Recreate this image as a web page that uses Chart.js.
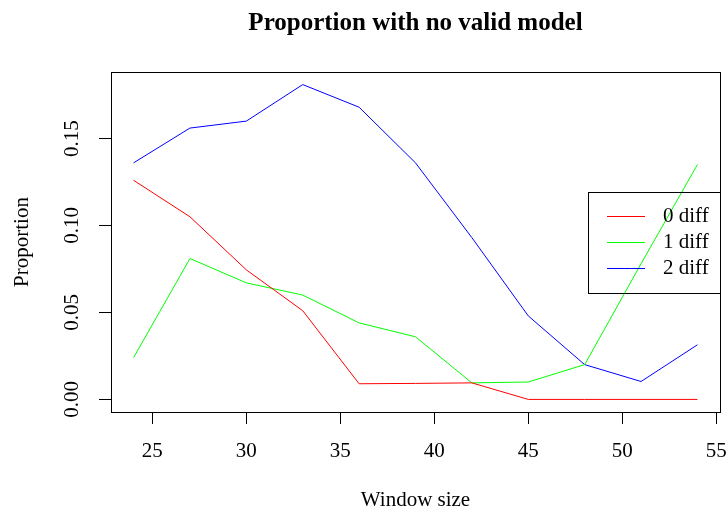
<!DOCTYPE html>
<html lang="en">
<head>
  <meta charset="UTF-8" />
  <title>Proportion with no valid model</title>
  <style>
    html, body { margin: 0; padding: 0; background: #fff; }
    #wrap { width: 728px; height: 513px; }
  </style>
</head>
<body>
  <div id="wrap">
    <canvas id="chart" width="728" height="513"></canvas>
  </div>

  <script src="https://cdn.jsdelivr.net/npm/chart.js"></script>
  <script>
    // values
    const windowSizes = [24, 27, 30, 33, 36, 39, 42, 45, 48, 51, 54];
    const diff0 = [0.126, 0.105, 0.0745, 0.051, 0.009, 0.0092, 0.0095, 0, 0, 0, 0];
    const diff1 = [0.024, 0.081, 0.067, 0.060, 0.044, 0.036, 0.0095, 0.010, 0.020, 0.078, 0.135];
    const diff2 = [0.136, 0.156, 0.160, 0.181, 0.168, 0.136, 0.093, 0.048, 0.020, 0.0103, 0.0314];
    const seriesNames = ['0 diff', '1 diff', '2 diff'];
    const xTicks = [25, 30, 35, 40, 45, 50, 55];
    const yTicks = [0, 0.05, 0.10, 0.15];
    const chartTitle = 'Proportion with no valid model';

    const FONT = "'Liberation Serif', 'Times New Roman', serif";
    Chart.defaults.font.family = FONT;
    Chart.defaults.color = '#000';

    // R style axis range: data range plus 4% each side
    function padRange(vals) {
      const lo = Math.min(...vals), hi = Math.max(...vals);
      const d = (hi - lo) * 0.04;
      return [lo - d, hi + d];
    }
    const [xMin, xMax] = padRange(windowSizes);
    const [yMin, yMax] = padRange(diff0.concat(diff1, diff2));

    const toPoints = arr => arr.map((v, i) => ({ x: windowSizes[i], y: v }));

    // title centred over the plot region, full box, legend at right middle (like R)
    const boxAndLegend = {
      id: 'boxAndLegend',
      afterDraw(chart) {
        const { ctx, chartArea: a } = chart;
        ctx.save();
        ctx.fillStyle = '#000';
        ctx.font = 'bold 25px ' + FONT;
        ctx.textAlign = 'center';
        ctx.textBaseline = 'middle';
        ctx.fillText(chartTitle, (a.left + a.right) / 2, 23.5);

        ctx.strokeStyle = '#000';
        ctx.lineWidth = 1;
        ctx.strokeRect(Math.round(a.left) + 0.5, Math.round(a.top) + 0.5,
          Math.round(a.right - a.left), Math.round(a.bottom - a.top));

        const w = 132, h = 101, rowH = 25.7;
        const lx = a.right - w, ly = (a.top + a.bottom) / 2 - h / 2;
        ctx.strokeRect(Math.round(lx) + 0.5, Math.round(ly) + 0.5, w, h);
        ctx.font = '21px ' + FONT;
        ctx.textAlign = 'left';
        chart.data.datasets.forEach((ds, i) => {
          const y = Math.round(ly + h / 2 + (i - 1) * rowH) + 0.5;
          ctx.strokeStyle = ds.borderColor;
          ctx.beginPath();
          ctx.moveTo(lx + 19, y);
          ctx.lineTo(lx + 57, y);
          ctx.stroke();
          ctx.fillStyle = '#000';
          ctx.fillText(ds.label, lx + 75, y);
        });
        ctx.restore();
      }
    };

    new Chart(document.getElementById('chart'), {
      type: 'line',
      data: {
        datasets: [
          { label: seriesNames[0], data: toPoints(diff0), borderColor: '#ff0000' },
          { label: seriesNames[1], data: toPoints(diff1), borderColor: '#00ff00' },
          { label: seriesNames[2], data: toPoints(diff2), borderColor: '#0000ff' }
        ]
      },
      options: {
        responsive: false,
        animation: false,
        layout: { padding: { left: 0, right: 8, top: 72, bottom: 0 } },
        elements: {
          line: { borderWidth: 1, tension: 0 },
          point: { radius: 0 }
        },
        plugins: {
          legend: { display: false },
          tooltip: { enabled: false },
          title: { display: false }
        },
        scales: {
          x: {
            type: 'linear',
            min: xMin,
            max: xMax,
            afterBuildTicks: s => { s.ticks = xTicks.map(v => ({ value: v })); },
            afterFit: s => { s.height = 101; s.paddingLeft = 0; s.paddingRight = 0; },
            grid: { drawOnChartArea: false, drawTicks: true, tickLength: 12, color: '#000' },
            border: { display: false },
            ticks: { font: { size: 21 }, padding: 15, maxRotation: 0 },
            title: {
              display: true,
              text: 'Window size',
              font: { size: 21 },
              padding: { top: 0, bottom: 0 }
            }
          },
          y: {
            type: 'linear',
            min: yMin,
            max: yMax,
            afterBuildTicks: s => { s.ticks = yTicks.map(v => ({ value: v })); },
            afterFit: s => { s.width = 111; s.paddingTop = 0; s.paddingBottom = 0; },
            grid: { drawOnChartArea: false, drawTicks: true, tickLength: 12, color: '#000' },
            border: { display: false },
            ticks: {
              font: { size: 21 },
              padding: 8,
              minRotation: 90,
              maxRotation: 90,
              crossAlign: 'center',
              callback: v => v.toFixed(2)
            },
            title: {
              display: true,
              text: 'Proportion',
              font: { size: 21 },
              padding: { top: 10, bottom: 0 }
            }
          }
        }
      },
      plugins: [boxAndLegend]
    });
  </script>
</body>
</html>
